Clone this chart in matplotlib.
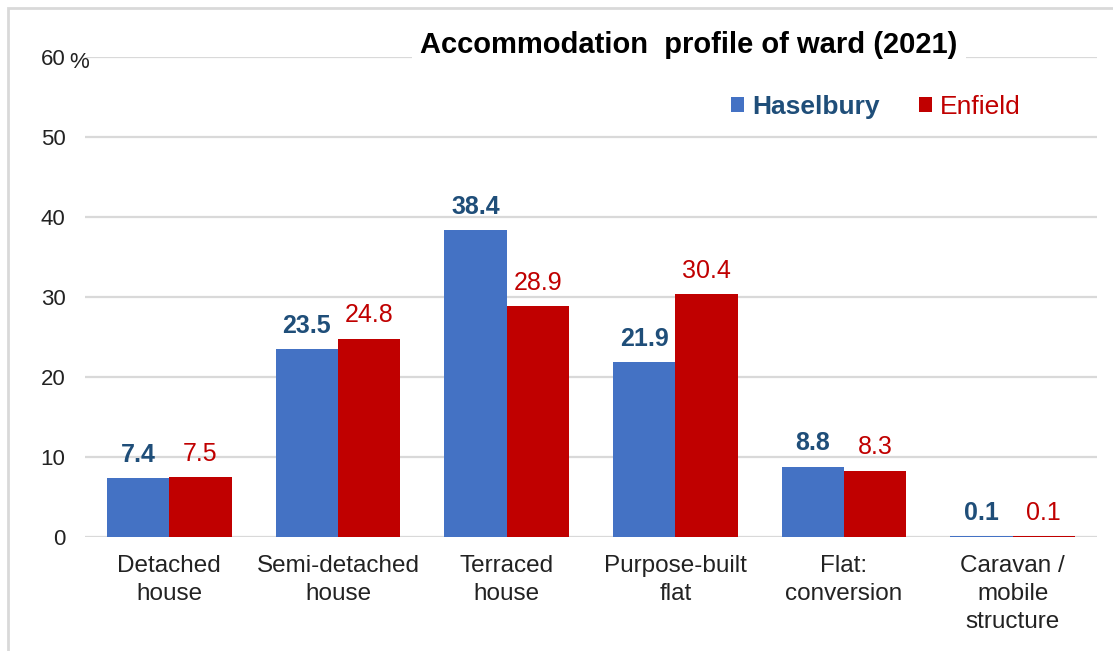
import matplotlib
matplotlib.use("Agg")
import matplotlib.pyplot as plt
from matplotlib.patches import Patch, Rectangle
import numpy as np

plt.rcParams['font.family'] = ['Liberation Sans', 'DejaVu Sans']

categories = ["Detached\nhouse", "Semi-detached\nhouse", "Terraced\nhouse",
              "Purpose-built\nflat", "Flat:\nconversion", "Caravan /\nmobile\nstructure"]
haselbury = [7.4, 23.5, 38.4, 21.9, 8.8, 0.1]
enfield = [7.5, 24.8, 28.9, 30.4, 8.3, 0.1]
yticks = [0, 10, 20, 30, 40, 50, 60]
title = "Accommodation  profile of ward (2021)"

blue = "#4472C4"
red = "#C00000"
blue_txt = "#1F4E79"
red_txt = "#C00000"
grid_c = "#D9D9D9"

W, H = 1113, 651
fig = plt.figure(figsize=(W / 100, H / 100), dpi=100)
# axes: x 85..1097 px, y0 at 537, y60 at 57
ax = fig.add_axes([85 / W, 1 - 537 / H, (1097 - 85) / W, (537 - 57) / H])

x = np.arange(len(categories))
bw = 0.37
ax.bar(x - bw / 2, haselbury, bw, color=blue, zorder=3)
ax.bar(x + bw / 2, enfield, bw, color=red, zorder=3)

for xi, v in zip(x, haselbury):
    ax.annotate(f"{v:.1f}", (xi - bw / 2, v), xytext=(0, 8), textcoords="offset points",
                ha="center", va="bottom", fontsize=18, fontweight="bold", color=blue_txt)
for xi, v in zip(x, enfield):
    ax.annotate(f"{v:.1f}", (xi + bw / 2, v), xytext=(0, 8), textcoords="offset points",
                ha="center", va="bottom", fontsize=18, color=red_txt)

ax.set_xlim(-0.5, len(categories) - 0.5)
ax.set_ylim(0, 60)
ax.set_yticks(yticks)
ax.set_yticklabels([str(t) for t in yticks], fontsize=16, color="#222222")
ax.set_xticks(x)
ax.set_xticklabels(categories, fontsize=17.5, color="#222222", linespacing=1.35)
ax.tick_params(axis="both", length=0)
ax.tick_params(axis="y", pad=14)
ax.tick_params(axis="x", pad=13)
ax.yaxis.grid(True, color=grid_c, linewidth=1.6, zorder=0)
ax.set_axisbelow(True)
for s in ax.spines.values():
    s.set_visible(False)

# percent sign next to top tick
fig.text(69 / W, 1 - 63 / H, "%", fontsize=16, color="#222222", ha="left", va="center")

# title with white background
fig.text(689 / W, 1 - 45 / H, title, fontsize=21, fontweight="bold", ha="center", va="center",
         color="black", bbox=dict(facecolor="white", edgecolor="none", pad=6))

# legend
handles = [Patch(facecolor=blue), Patch(facecolor=red)]
leg = fig.legend(handles, ["Haselbury", "Enfield"], loc="center", bbox_to_anchor=(876 / W, 1 - 107 / H),
                 ncol=2, frameon=False, fontsize=19, handlelength=0.5, handleheight=0.5,
                 handletextpad=0.3, columnspacing=1.5, borderpad=0)
txts = leg.get_texts()
txts[0].set_color(blue_txt)
txts[0].set_fontweight("bold")
txts[1].set_color(red_txt)

# outer border
fig.patches.append(Rectangle((8 / W, -0.1), 1.2, 1 - 8 / H + 0.1, transform=fig.transFigure,
                             fill=False, edgecolor=grid_c, linewidth=2))

fig.savefig("out.png", dpi=100)
